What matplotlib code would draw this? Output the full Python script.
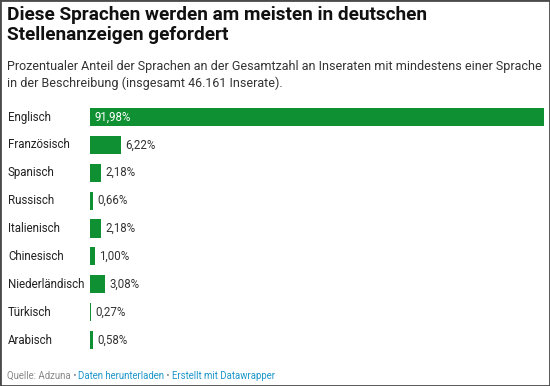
import matplotlib
matplotlib.use("Agg")
import matplotlib.pyplot as plt
from matplotlib.patches import Rectangle

languages = ["Englisch", "Französisch", "Spanisch", "Russisch", "Italienisch",
             "Chinesisch", "Niederländisch", "Türkisch", "Arabisch"]
values = [91.98, 6.22, 2.18, 0.66, 2.18, 1.00, 3.08, 0.27, 0.58]
value_labels = ["91,98%", "6,22%", "2,18%", "0,66%", "2,18%", "1,00%", "3,08%", "0,27%", "0,58%"]

title = "Diese Sprachen werden am meisten in deutschen\nStellenanzeigen gefordert"
subtitle = ("Prozentualer Anteil der Sprachen an der Gesamtzahl an Inseraten mit mindestens einer Sprache\n"
            "in der Beschreibung (insgesamt 46.161 Inserate).")

plt.rcParams['font.family'] = ['Roboto', 'DejaVu Sans']

W, H = 550, 386
fig = plt.figure(figsize=(W / 100, H / 100), dpi=100)
fig.patch.set_facecolor("white")

def fx(px): return px / W
def fy(py): return 1 - py / H

# border
fig.patches.append(Rectangle((0, 0), 1, 1, transform=fig.transFigure, fill=False,
                             edgecolor="#4a4a4a", linewidth=2.0))

fig.text(fx(7), fy(6), title, ha="left", va="top", fontsize=13.7, fontweight="bold",
         color="#111111", linespacing=1.15)
fig.text(fx(7), fy(60), subtitle, ha="left", va="top", fontsize=9.0, color="#333333",
         linespacing=1.35)

bar_color = "#0f9133"
ax_left, ax_right = 90, 544
row0, rowN = 117, 340
step = (rowN - row0) / (len(languages) - 1)
ax_top = row0 - step / 2
ax_bot = rowN + step / 2
ax = fig.add_axes([fx(ax_left), fy(ax_bot), fx(ax_right - ax_left), (ax_bot - ax_top) / H])
ax.set_xlim(0, max(values))
ax.set_ylim(len(languages) - 0.5, -0.5)
ax.axis("off")

ypos = list(range(len(languages)))
ax.barh(ypos, values, height=0.65, color=bar_color, edgecolor="none")

for i, (lang, v, lab) in enumerate(zip(languages, values, value_labels)):
    yy = row0 + i * step
    fig.text(fx(8), fy(yy), lang, ha="left", va="center", fontsize=8.3, color="#222222")
    if i == 0:
        ax.annotate(lab, (0, i), xytext=(3.2, 0), textcoords="offset points", ha="left",
                    va="center", fontsize=8.3, color="white")
    else:
        ax.annotate(lab, (v, i), xytext=(3.2, 0), textcoords="offset points", ha="left",
                    va="center", fontsize=8.3, color="#333333")

# footer
parts = [("Quelle: Adzuna", "#888888"), (" • ", "#888888"), ("Daten herunterladen", "#1d97c9"),
         (" • ", "#888888"), ("Erstellt mit Datawrapper", "#1d97c9")]
fig.canvas.draw()
renderer = fig.canvas.get_renderer()
x = 7
for txt, col in parts:
    t = fig.text(fx(x), fy(376), txt, ha="left", va="center", fontsize=6.9, color=col)
    bb = t.get_window_extent(renderer=renderer)
    x += bb.width

fig.savefig("out.png", dpi=100, facecolor="white")
